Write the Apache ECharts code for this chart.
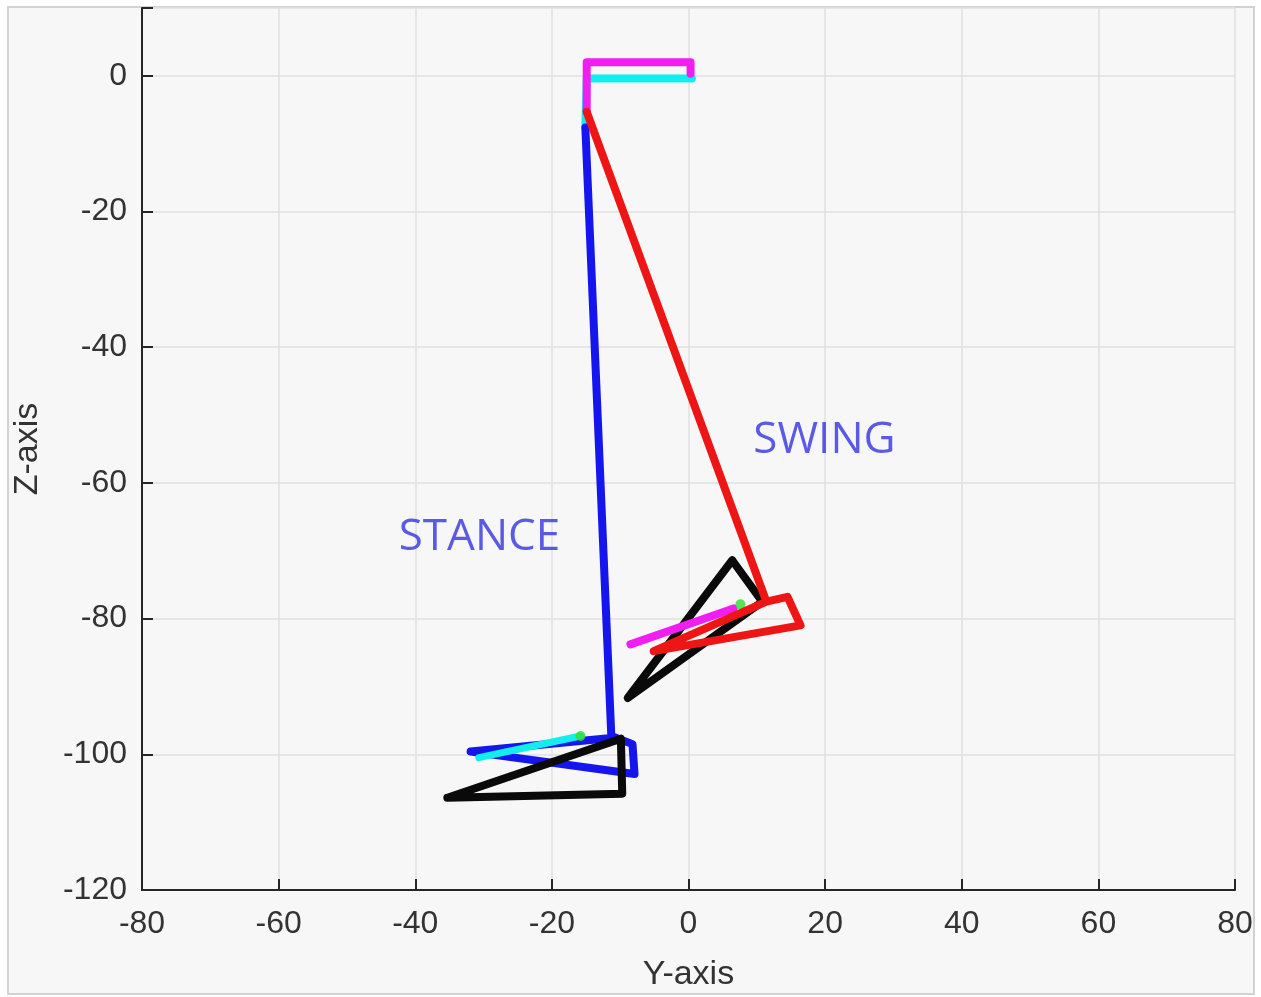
<!DOCTYPE html>
<html>
<head>
<meta charset="utf-8">
<script src="https://cdn.jsdelivr.net/npm/echarts@6/dist/echarts.min.js"></script>
<style>
html,body{margin:0;padding:0;background:#fff;}
#chart{width:1261px;height:997px;}
</style>
</head>
<body>
<div id="chart"></div>
<script>
// ---- data (Y-axis, Z-axis) ----
const xTicks = [-80, -60, -40, -20, 0, 20, 40, 60, 80];
const zTicks = [-120, -100, -80, -60, -40, -20, 0];

const cyanHip = [[0.5, -0.4], [-14.9, -0.4], [-15.1, -7.6]];
const magentaHip = [[-14.9, -5.3], [-14.9, 2.0], [0.3, 2.0], [0.3, 0.3]];
const blueStance = [[-15.1, -7.6], [-11.3, -97.3], [-8.2, -98.5], [-7.9, -102.9], [-31.9, -99.6], [-11.3, -97.6]];
const blackStanceFoot = [[-35.3, -106.4], [-9.9, -97.7], [-9.7, -105.8], [-35.3, -106.4]];
const cyanStanceFoot = [[-30.7, -100.5], [-15.8, -97.3]];
const greenStance = [[-15.8, -97.3]];
const blackSwingFoot = [[6.4, -71.4], [10.8, -77.5], [-8.9, -91.7], [6.4, -71.4]];
const magentaSwingFoot = [[-8.5, -83.8], [6.6, -78.5]];
const greenSwing = [[7.6, -77.9]];
const redSwing = [[-14.9, -5.3], [11.4, -77.5], [14.5, -76.8], [16.4, -81.0], [-5.1, -84.8], [11.4, -77.5]];
const annotations = [
  { name: 'STANCE', value: [-30.6, -68.0] },
  { name: 'SWING', value: [19.9, -53.8] }
];

const chart = echarts.init(document.getElementById('chart'));

function lineSeries(data, color, width, z) {
  return {
    type: 'line', data: data, symbol: 'none', silent: true, z: z,
    lineStyle: { color: color, width: width, cap: 'round', join: 'round' },
    animation: false
  };
}

const axisFont = { fontFamily: 'Liberation Sans, Arial, sans-serif', fontSize: 32, color: '#333333' };

chart.setOption({
  backgroundColor: '#ffffff',
  animation: false,
  graphic: [{
    type: 'rect', z: -100,
    shape: { x: 8, y: 7, width: 1246, height: 987 },
    style: { fill: '#f7f7f7', stroke: '#d2d2d2', lineWidth: 2 }
  }],
  grid: { left: 142, right: 26, top: 8, bottom: 102 },
  xAxis: {
    type: 'value', min: xTicks[0], max: xTicks[xTicks.length - 1], interval: 20,
    name: 'Y-axis', nameLocation: 'middle', nameGap: 68,
    nameTextStyle: { fontFamily: 'Liberation Sans, Arial, sans-serif', fontSize: 34, color: '#333333' },
    axisLine: { show: true, onZero: false, lineStyle: { color: '#262626', width: 2 } },
    axisTick: { show: true, inside: true, length: 11, lineStyle: { color: '#262626', width: 2 } },
    axisLabel: Object.assign({ margin: 18 }, axisFont),
    splitLine: { show: true, lineStyle: { color: '#e0e0e0', width: 1.5 } }
  },
  yAxis: {
    type: 'value', min: zTicks[0], max: 10, interval: 20,
    name: 'Z-axis', nameLocation: 'middle', nameGap: 97,
    nameTextStyle: { fontFamily: 'Liberation Sans, Arial, sans-serif', fontSize: 34, color: '#333333' },
    axisLine: { show: true, onZero: false, lineStyle: { color: '#262626', width: 2 } },
    axisTick: { show: true, inside: true, length: 11, lineStyle: { color: '#262626', width: 2 } },
    axisLabel: Object.assign({
      margin: 15,
      formatter: function (v) { return zTicks.indexOf(v) >= 0 ? String(v) : ''; }
    }, axisFont),
    splitLine: { show: true, lineStyle: { color: '#e0e0e0', width: 1.5 } }
  },
  series: [
    lineSeries(cyanHip, '#12eeee', 8, 3),
    lineSeries(magentaHip, '#f01ef0', 8, 4),
    lineSeries(blueStance, '#1515ee', 8, 5),
    lineSeries(blackStanceFoot, '#0a0a0a', 8, 6),
    lineSeries(cyanStanceFoot, '#12eeee', 7, 7),
    {
      type: 'scatter', data: greenStance, symbol: 'circle', symbolSize: 10, z: 8, silent: true,
      itemStyle: { color: '#2ee02e' }
    },
    lineSeries(blackSwingFoot, '#0a0a0a', 8, 6),
    lineSeries(magentaSwingFoot, '#f01ef0', 8, 7),
    {
      type: 'scatter', data: greenSwing, symbol: 'circle', symbolSize: 10, z: 8, silent: true,
      itemStyle: { color: '#2ee02e' }
    },
    lineSeries(redSwing, '#ee1515', 8, 9),
    {
      type: 'scatter', data: annotations, symbolSize: 0, z: 10, silent: true,
      label: {
        show: true, position: 'inside', formatter: '{b}',
        fontFamily: 'Open Sans, sans-serif', fontSize: 44, color: '#3232e2'
      }
    }
  ]
});
</script>
</body>
</html>
